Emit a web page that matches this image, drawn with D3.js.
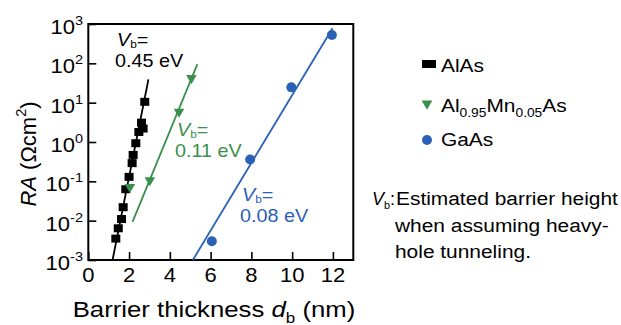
<!DOCTYPE html>
<html>
<head>
<meta charset="utf-8">
<script src="https://cdn.jsdelivr.net/npm/d3@7"></script>
<style>
  html, body { margin: 0; padding: 0; background: #fff; }
  svg { display: block; }
  text { font-family: "Liberation Sans", Arial, Helvetica, sans-serif; }
</style>
</head>
<body>
<svg id="chart" width="621" height="325"></svg>
<script>
// Axis ticks
const xTicks = [0, 2, 4, 6, 8, 10, 12];
const yExponents = [-3, -2, -1, 0, 1, 2, 3];

// AlAs barriers: thickness (nm) and RA (Ω cm²)
const alasThickness = [1.35, 1.47, 1.63, 1.71, 1.84, 2.00, 2.15, 2.20, 2.33, 2.48, 2.61, 2.69, 2.77];
const alasRA        = [0.0035, 0.0064, 0.011, 0.022, 0.063, 0.13, 0.29, 0.47, 0.93, 1.8, 3.1, 2.2, 10.5];
const alasFitX  = [1.19, 2.95];
const alasFitRA = [0.001, 39];

// Al0.95Mn0.05As barriers
const almnThickness = [2.04, 3.02, 4.45, 5.06];
const almnRA        = [0.072, 0.107, 5.9, 42];
const almnFitX  = [2.17, 5.35];
const almnFitRA = [0.0093, 95];

// GaAs barriers
const gaasThickness = [6.06, 7.94, 9.96, 11.95];
const gaasRA        = [0.003, 0.36, 24.5, 525];
const gaasFitX  = [5.13, 11.98];
const gaasFitRA = [0.001, 776];

const BLACK = "#000000", GREEN = "#3b8f4d", BLUE = "#2a60b6";

const svg = d3.select("#chart");
const plotLeft = 88.3, plotRight = 353.3, plotTop = 24, plotBottom = 260;

const x = d3.scaleLinear().domain([0, 13]).range([plotLeft, plotRight]);
const y = d3.scaleLog().domain([1e-3, 1e3]).range([plotBottom, plotTop]);

// Text with italic / subscript / superscript runs and line breaks, stretched slightly wide
function richText(parent, px, py, runs, opt) {
  const size = opt.size, sx = opt.sx || 1.1;
  const t = parent.append("text")
    .attr("transform", `translate(${px},${py})` + (opt.rotate ? ` rotate(${opt.rotate})` : "") + ` scale(${sx},1)`)
    .attr("font-size", size)
    .attr("text-anchor", opt.anchor || "start")
    .attr("fill", opt.fill || BLACK);
  let shift = 0;
  runs.forEach(r => {
    const ts = t.append("tspan").text(r.t);
    if (r.br) {
      ts.attr("x", (r.x || 0) / sx).attr("dy", r.br - shift);
      shift = 0;
      return;
    }
    const target = r.sub ? size * (opt.subShift || 0.25) : r.sup ? -size * 0.45 : 0;
    if (target !== shift) ts.attr("dy", target - shift);
    shift = target;
    if (r.sub || r.sup) ts.attr("font-size", size * (opt.subScale || 0.66));
    if (r.it) ts.attr("font-style", "italic");
  });
  return t;
}

// Inward ticks
const gx = svg.append("g").attr("transform", `translate(0,${plotBottom})`)
  .call(d3.axisBottom(x).tickValues(xTicks).tickSize(-8).tickFormat(""));
const gy = svg.append("g").attr("transform", `translate(${plotLeft},0)`)
  .call(d3.axisLeft(y).tickValues(yExponents.map(e => Math.pow(10, e))).tickSize(-8).tickFormat(""));
[gx, gy].forEach(g => {
  g.select(".domain").remove();
  g.selectAll(".tick line").attr("stroke", BLACK).attr("stroke-width", 1.6);
});

// Frame
svg.append("rect")
  .attr("x", plotLeft).attr("y", plotTop)
  .attr("width", plotRight - plotLeft).attr("height", plotBottom - plotTop)
  .attr("fill", "none").attr("stroke", BLACK).attr("stroke-width", 2);

// Tick labels
xTicks.forEach(v => richText(svg, x(v), 282, [{ t: String(v) }], { size: 20, anchor: "middle" }));
yExponents.forEach(e => richText(svg, 83, y(Math.pow(10, e)) + 10,
  [{ t: "10" }, { t: String(e), sup: true }], { size: 20, anchor: "end" }));

// Axis titles
richText(svg, 214, 317,
  [{ t: "Barrier thickness " }, { t: "d", it: true }, { t: "b", sub: true }, { t: " (nm)" }],
  { size: 22, anchor: "middle", sx: 1.17 });
richText(svg, 36, 154,
  [{ t: "RA", it: true }, { t: " (Ωcm" }, { t: "2", sup: true }, { t: ")" }],
  { size: 22, anchor: "middle", sx: 1, rotate: -90 });

// Fit lines
const line = d3.line().x(d => x(d[0])).y(d => y(d[1]));
[[alasFitX, alasFitRA, BLACK], [almnFitX, almnFitRA, GREEN], [gaasFitX, gaasFitRA, BLUE]].forEach(([xs, ys, c]) => {
  svg.append("path").datum(d3.zip(xs, ys))
    .attr("d", line).attr("fill", "none").attr("stroke", c).attr("stroke-width", 1.8);
});

// Markers
svg.append("g").selectAll("rect").data(d3.zip(alasThickness, alasRA)).join("rect")
  .attr("x", d => x(d[0]) - 4.5).attr("y", d => y(d[1]) - 4)
  .attr("width", 9).attr("height", 8).attr("fill", BLACK);

const tri = d3.symbol(d3.symbolTriangle, 48);
svg.append("g").selectAll("path").data(d3.zip(almnThickness, almnRA)).join("path")
  .attr("d", tri).attr("fill", GREEN)
  .attr("transform", d => `translate(${x(d[0])},${y(d[1])}) rotate(180)`);

svg.append("g").selectAll("circle").data(d3.zip(gaasThickness, gaasRA)).join("circle")
  .attr("cx", d => x(d[0])).attr("cy", d => y(d[1])).attr("r", 5).attr("fill", BLUE);

// Barrier height annotations (two lines in one text)
function vbLabel(px, py, value, color) {
  richText(svg, px, py - 1.5,
    [{ t: "V", it: true }, { t: "b", sub: true }, { t: "=" }, { t: value, br: 21.5, x: -2 }],
    { size: 18, fill: color, sx: 1.1, subShift: 0.12, subScale: 0.6 });
}
vbLabel(117, 47, "0.45 eV", BLACK);
vbLabel(177, 137, "0.11 eV", GREEN);
vbLabel(242, 202, "0.08 eV", BLUE);

// Legend
const lg = svg.append("g");
lg.append("rect").attr("x", 422).attr("y", 60).attr("width", 14).attr("height", 8).attr("fill", BLACK);
richText(lg, 441, 72, [{ t: "AlAs" }], { size: 19 });
lg.append("path").attr("d", d3.symbol(d3.symbolTriangle, 50))
  .attr("transform", "translate(427,103.5) rotate(180)").attr("fill", GREEN);
richText(lg, 441, 112, [{ t: "Al" }, { t: "0.95", sub: true }, { t: "Mn" }, { t: "0.05", sub: true }, { t: "As" }], { size: 19 });
lg.append("circle").attr("cx", 427).attr("cy", 140).attr("r", 5).attr("fill", BLUE);
richText(lg, 441, 146, [{ t: "GaAs" }], { size: 19 });

// Note on V_b
richText(svg, 372, 205, [{ t: "V", it: true }, { t: "b", sub: true }, { t: ":" }],
  { size: 19, sx: 0.95, subShift: 0.2, subScale: 0.6 });
richText(svg, 396, 205, [{ t: "Estimated barrier height" }], { size: 19, sx: 1.1 });
richText(svg, 395, 232, [{ t: "when assuming heavy-" }], { size: 19, sx: 1.1 });
richText(svg, 395, 258, [{ t: "hole tunneling." }], { size: 19, sx: 1.1 });
</script>
</body>
</html>
